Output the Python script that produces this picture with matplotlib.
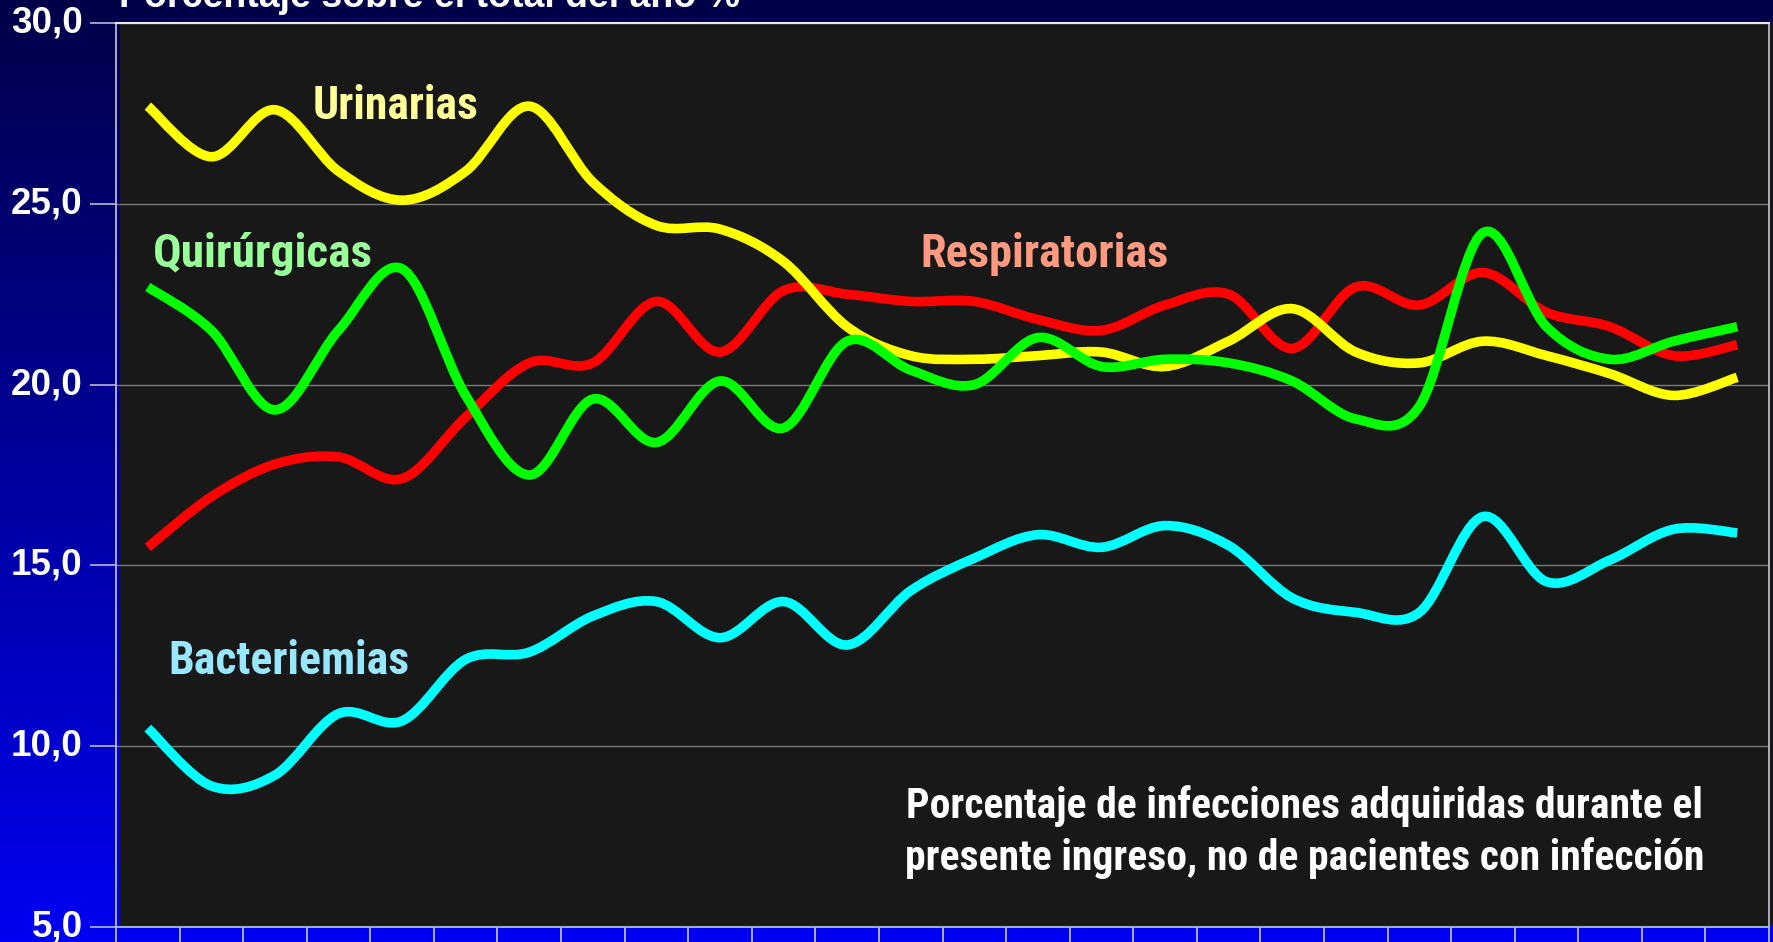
import numpy as np
import matplotlib
matplotlib.use('Agg')
import matplotlib.pyplot as plt
from matplotlib.path import Path
from matplotlib.patches import PathPatch, Rectangle
from matplotlib.colors import LinearSegmentedColormap
from matplotlib import font_manager

# datos (porcentaje sobre el total del año)
urinarias = [27.7, 26.3, 27.6, 25.9, 25.1, 25.9, 27.7, 25.6, 24.4, 24.3, 23.4, 21.6, 20.8,
             20.7, 20.8, 20.9, 20.5, 21.2, 22.1, 20.9, 20.6, 21.2, 20.8, 20.3, 19.7, 20.2]
quirurgicas = [22.7, 21.5, 19.3, 21.5, 23.2, 19.7, 17.5, 19.6, 18.4, 20.1, 18.8, 21.2, 20.4,
               20.0, 21.3, 20.5, 20.7, 20.6, 20.1, 19.05, 19.4, 24.2, 21.6, 20.7, 21.2, 21.6]
respiratorias = [15.5, 16.9, 17.8, 18.0, 17.4, 19.1, 20.6, 20.6, 22.3, 20.9, 22.6, 22.5, 22.3,
                 22.3, 21.8, 21.5, 22.2, 22.5, 21.0, 22.7, 22.2, 23.1, 22.0, 21.6, 20.8, 21.1]
bacteriemias = [10.5, 8.9, 9.2, 10.9, 10.7, 12.4, 12.6, 13.6, 14.0, 13.0, 14.0, 12.8, 14.3,
                15.2, 15.85, 15.5, 16.1, 15.55, 14.1, 13.7, 13.7, 16.35, 14.55, 15.15, 16.0, 15.9]
y_ticks = [5, 10, 15, 20, 25, 30]
y_ticklabels = ['5,0', '10,0', '15,0', '20,0', '25,0', '30,0']
titulo = 'Porcentaje sobre el total del año %'
nota = ['Porcentaje de infecciones adquiridas durante el',
        'presente ingreso, no de pacientes con infección']

# fuente estrecha si existe, si no Liberation Sans ajustada al ancho
names = {f.name for f in font_manager.fontManager.ttflist}
NARROW = 'Liberation Sans'
for cand in ['Liberation Sans Narrow', 'Arial Narrow', 'Roboto Condensed', 'Open Sans Condensed']:
    if cand in names:
        NARROW = cand
        break
REG = 'Liberation Sans'


def smooth_path(xs, ys):
    # curva suavizada tipo Excel (bezier que pasa por los puntos)
    pts = np.column_stack([xs, ys]).astype(float)
    n = len(pts)
    verts = [pts[0]]
    codes = [Path.MOVETO]
    for i in range(n - 1):
        p0 = pts[i - 1] if i > 0 else pts[i]
        p1 = pts[i]
        p2 = pts[i + 1]
        p3 = pts[i + 2] if i + 2 < n else pts[i + 1]
        verts += [p1 + (p2 - p0) / 6, p2 - (p3 - p1) / 6, p2]
        codes += [Path.CURVE4] * 3
    return Path(verts, codes)


W, H = 1774, 942
fig = plt.figure(figsize=(W / 100, H / 100), dpi=100)

# fondo degradado
bg = fig.add_axes([0, 0, 1, 1], zorder=-10)
cmap = LinearSegmentedColormap.from_list('fondo', ['#000048', '#0000F2'])
bg.imshow(np.linspace(0, 1, 256).reshape(-1, 1), aspect='auto', cmap=cmap, extent=[0, 1, 0, 1])
bg.set_axis_off()

# zona gris oscura del grafico
fig.patches.append(Rectangle((120 / W, 1 - 925 / H), (W - 120) / W, (925 - 24) / H,
                             transform=fig.transFigure, facecolor='#181818',
                             edgecolor='none', zorder=-5))

ax = fig.add_axes([116 / W, 1 - 927 / H, (1769 - 116) / W, (927 - 23) / H])
ax.set_facecolor('none')
ax.set_xlim(-0.5, len(urinarias) - 0.5)
ax.set_ylim(5, 30)

x = np.arange(len(urinarias))
series = [(respiratorias, '#FF0000'), (urinarias, '#FFFF00'),
          (quirurgicas, '#00FF00'), (bacteriemias, '#00FFFF')]
for vals, col in series:
    ax.add_patch(PathPatch(smooth_path(x, vals), fill=False, edgecolor=col, lw=6.9,
                           capstyle='butt', joinstyle='round', zorder=3))

ax.set_yticks(y_ticks)
ax.set_yticklabels(y_ticklabels, fontfamily=REG, fontweight='bold', fontsize=26.5, color='white',
                   va='center')
ax.tick_params(axis='y', length=19, width=1.2, color='#B8B8D0', pad=5)
ax.set_xticks(np.arange(-0.5, len(urinarias), 1))
ax.set_xticklabels([])
ax.tick_params(axis='x', length=20, width=1.2, color='#C8C8D8', direction='out')
ax.yaxis.grid(True, color='#7A7A7A', lw=1)
ax.set_axisbelow(True)
for side in ['left', 'bottom', 'right']:
    ax.spines[side].set_color('#B8B8D0')
    ax.spines[side].set_linewidth(1.3)
ax.spines['top'].set_color('#E8E8E8')
ax.spines['top'].set_linewidth(1.5)

# etiquetas de las series (ancho objetivo en px)
lab = dict(fontfamily=NARROW, fontweight='bold', fontsize=34, ha='center', va='baseline')
etiquetas = [
    (ax.text(3.89, 27.35, 'Urinarias', color='#FFFF99', **lab), 166),
    (ax.text(1.81, 23.26, 'Quirúrgicas', color='#99FF99', **lab), 220),
    (ax.text(14.1, 23.24, 'Respiratorias', color='#FF9980', **lab), 248),
    (ax.text(2.22, 12.01, 'Bacteriemias', color='#99E6FF', **lab), 241),
]

nt = dict(fontfamily=NARROW, fontweight='bold', fontsize=30, ha='center', va='baseline', color='white')
n1 = ax.text(18.19, 8.01, nota[0], **nt)
n2 = ax.text(18.19, 6.58, nota[1], **nt)

fig.text(119 / W, 1 - 7 / H, titulo, fontfamily=REG, fontweight='bold', fontsize=27,
         color='white', ha='left', va='baseline')

# ajustar tamaños al ancho del original
fig.canvas.draw()
r = fig.canvas.get_renderer()
for t, target in etiquetas:
    w = t.get_window_extent(r).width
    t.set_fontsize(t.get_fontsize() * target / w)
w2 = n2.get_window_extent(r).width
fs = n2.get_fontsize() * 798 / w2
n1.set_fontsize(fs)
n2.set_fontsize(fs)

fig.savefig('out.png', dpi=100)
